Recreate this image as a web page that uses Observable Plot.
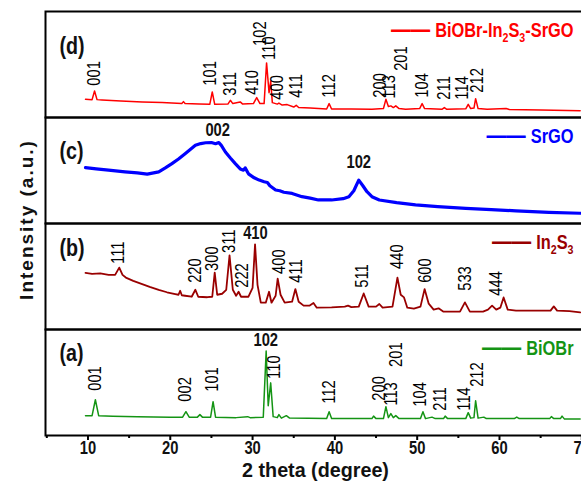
<!DOCTYPE html>
<html><head><meta charset="utf-8">
<script src="https://cdn.jsdelivr.net/npm/d3@7"></script>
<script src="https://cdn.jsdelivr.net/npm/@observablehq/plot@0.6"></script>
<style>
html,body{margin:0;padding:0;background:#fff;overflow:hidden;}
#chart svg{display:block;}
</style></head><body><div id="chart"></div>
<script>
// ---- data: [2theta, intensity (a.u., per-panel)] ----
const bioBr = [[9.7,20],[10.5,20],[10.9,36],[11.3,20],[13,19.5],[16,19],[20,18.5],[21.5,18.5],[21.9,24],[22.3,18.5],[23.3,18.5],[23.6,21],[23.9,18.5],[24.9,18.5],[25.2,34],[25.5,18.5],[28,18],[29.4,19],[29.7,18],[31.3,18.5],[31.65,85],[31.9,30],[32.2,53],[32.5,19],[33.0,18],[33.2,21],[33.5,17.5],[34.1,20],[34.5,17.5],[39.0,17],[39.3,24],[39.6,17],[41,17],[44.5,17],[44.7,19.5],[45,17],[45.9,17],[46.2,29],[46.5,18],[46.8,22],[47.1,18],[47.4,20],[47.8,17],[50.4,17],[50.7,24],[51.0,17],[51.8,18.5],[52.2,17],[53.2,17],[53.4,19.5],[53.7,17],[55.9,17],[56.2,23],[56.5,17.5],[56.9,18],[57.1,35],[57.4,17.5],[58.1,18.5],[58.4,17],[61.8,17],[62.1,18.5],[62.4,17],[66.1,17],[66.3,19],[66.6,17],[67.4,17],[67.6,19.5],[67.9,16.5],[69.8,16.5]];
const in2s3 = [[9.7,57],[10.5,56],[11.5,56.5],[12.5,55],[13.3,55],[13.8,62.3],[14.2,55],[14.6,52.3],[15.5,49],[16.5,46],[17.5,43],[18.6,40],[19.6,37.5],[20.6,35.7],[21.0,35],[21.2,39],[21.4,34.5],[21.8,34],[22.6,33],[23.05,40],[23.4,33],[24.5,32.5],[25.1,33],[25.4,57.3],[25.7,35],[26.3,36],[26.8,40],[27.2,74.7],[27.6,40],[28.0,34],[28.3,38],[28.6,33],[29.5,33],[30.0,42],[30.3,85.7],[30.6,45],[31.0,27],[31.6,27],[32.0,38],[32.3,27],[32.8,34],[33.05,51.3],[33.4,35],[33.9,27],[34.8,28],[35.2,40.7],[35.6,28],[36.2,24],[36.9,24],[37.4,26.7],[37.8,22],[39.6,22.3],[41.2,23],[41.6,24],[42.0,22.5],[42.9,23],[43.5,36.3],[44.1,23],[45.0,23],[45.4,25.7],[45.8,22],[47.0,23],[47.6,52.3],[48.0,35],[48.4,32.3],[48.8,22],[49.6,21],[50.4,23],[50.9,40.7],[51.4,26],[52.0,20],[52.6,21.3],[53.2,18],[55.2,18],[55.8,27.3],[56.4,18],[58.0,18],[58.6,20],[59.1,24],[59.6,20],[60.1,22],[60.5,32.3],[61.0,20],[62.0,19],[64.0,19],[66.2,19],[66.6,23.3],[67.0,19],[68.5,18.5],[69.8,17.3]];
const srGO = [[9.7,56.3],[11.0,55],[12.5,53.7],[14.5,52],[16.0,51],[17.2,49.7],[18.6,52],[19.4,56],[20.2,60.3],[21.0,65],[21.8,70.3],[22.5,75],[23.05,78.7],[23.7,80.5],[24.3,81.3],[25.0,81.5],[25.5,80.3],[25.9,81.5],[26.2,78.7],[26.7,72],[27.3,66],[27.9,60.3],[28.5,55],[28.9,53.7],[29.1,56],[29.5,50],[30.2,46],[30.8,43.7],[31.4,42],[31.8,41.3],[32.1,38],[32.8,33.7],[33.3,33],[33.8,31.5],[34.8,30.3],[36.0,27],[37.0,25.5],[38.0,23.7],[39.6,23.7],[41.0,25],[41.7,27],[42.3,33],[42.9,43.7],[43.4,38],[43.9,32],[44.5,27],[45.4,23.7],[47.5,21],[49.8,18.7],[52.5,17],[55.9,15.3],[59.0,14],[62.0,12.7],[66.0,11.3],[69.8,10.3]];
const composite = [[9.7,18.3],[10.5,18],[10.8,26.7],[11.1,18],[11.7,17.7],[14.0,16.7],[16.6,15.7],[19.0,15],[21.4,14],[21.6,16],[21.8,14],[23.5,13.7],[24.8,13.3],[25.1,25.7],[25.4,13.3],[27.0,13.5],[27.3,17.3],[27.6,14],[28.5,15.7],[28.8,13.5],[30.1,14],[30.5,20],[30.9,14],[31.4,14],[31.7,55],[32.0,25],[32.2,36.7],[32.4,15],[33.0,13.5],[33.2,14.5],[33.6,12.5],[34.2,13],[35.0,10.5],[35.3,12.3],[35.6,10],[37.0,9.5],[38.0,9],[39.0,8.5],[39.3,14],[39.6,8.5],[42.0,8.5],[44.5,8.3],[45.9,9],[46.2,18.3],[46.5,11],[46.8,11.7],[47.1,10],[47.4,11.7],[47.8,9],[48.6,8.3],[50.3,9],[50.6,14],[50.9,9],[53.0,8.3],[53.3,10],[53.6,8.3],[55.9,8.7],[56.2,13.3],[56.5,9],[56.9,9.5],[57.1,19],[57.4,9],[58.5,8.3],[60.8,9],[61.2,8],[65,7.5],[69.8,6.7]];

// ---- peak labels: [hkl, 2theta, label anchor intensity] ----
const labelsA = [["001",10.9,45],["002",21.85,34],["101",25.1,44],["110",32.6,57],["112",39.3,32],["200",45.35,35],["113",46.9,30],["201",47.5,69],["104",50.4,29],["211",52.85,25],["114",55.7,25],["212",57.3,49]];
const labelsAFlat = [["102",31.6,96]];
const labelsB = [["111",13.64,66],["220",23.05,47],["300",25.15,59],["311",27.2,77],["222",28.7,42],["400",33.2,56],["411",35.3,47],["511",43.3,42],["440",47.6,61],["600",50.95,47],["533",55.8,39],["444",59.55,34]];
const labelsBFlat = [["410",30.35,97]];
const labelsCFlat = [["002",25.76,94],["102",42.9,62]];
const labelsD = [["001",10.77,32],["101",24.9,32],["311",27.3,22],["410",29.9,23],["102",30.95,72],["110",31.97,58],["400",32.97,18],["411",35.3,20],["112",39.35,20],["200",45.55,20],["113",46.55,19],["201",48.0,47],["104",50.6,20],["211",53.25,18],["114",55.5,18],["212",57.3,25]];

const panels = ["d","c","b","a"];
const panelLetters = ["(d)","(c)","(b)","(a)"];
const seriesNames = ["BiOBr-In2S3-SrGO","SrGO","In2S3","BiOBr"];
const xTicks = [10,20,30,40,50,60,70];
const xMinorTicks = [5,15,25,35,45,55,65];
const xTitle = "2 theta (degree)";
const yTitle = "Intensity (a.u.)";

// ---- styles ----
const colors = {d:"#ff0000", c:"#0000ff", b:"#990000", a:"#149414"};
const widths = {d:1.5, c:3.2, b:1.8, a:1.5};
const letterDy = {d:35, c:34, b:25, a:24};
const font = "'Liberation Sans', Arial, Helvetica, sans-serif";
const condense = 0.82;   // horizontal squeeze to mimic a narrow face

const toRows = (panel, arr) => arr.map(([x, y]) => ({panel, x, y}));
const toLabels = (panel, arr) => arr.map(([t, x, y]) => ({panel, t, x, y}));
const series = {d: composite, c: srGO, b: in2s3, a: bioBr};
const rotLabels = [...toLabels("d", labelsD), ...toLabels("b", labelsB), ...toLabels("a", labelsA)];
const flatLabels = [...toLabels("c", labelsCFlat), ...toLabels("b", labelsBFlat), ...toLabels("a", labelsAFlat)];

const marks = [];
for (const p of panels) {
  marks.push(Plot.line(toRows(p, series[p]), {x:"x", y:"y", fy:"panel", stroke: colors[p], strokeWidth: widths[p], strokeLinejoin:"round"}));
}
marks.push(Plot.text(rotLabels, {x:"x", y:"y", fy:"panel", text:"t", rotate:-90, textAnchor:"start", fontSize:18, fill:"#000"}));
marks.push(Plot.text(flatLabels, {x:"x", y:"y", fy:"panel", text:"t", textAnchor:"middle", fontSize:18, fontWeight:"bold", fill:"#111"}));
panels.forEach((p, i) => {
  marks.push(Plot.text([panelLetters[i]], {fy:[p], text:d=>d, frameAnchor:"top-left", textAnchor:"start", lineAnchor:"middle", dx:14, dy:letterDy[p], fontSize:24, fontWeight:"bold", fill:"#111"}));
  marks.push(Plot.text([seriesNames[i]], {fy:[p], text:d=>d, frameAnchor:"top-right", textAnchor:"end", lineAnchor:"middle", dx:-12, dy:19, fontSize:20, fontWeight:"bold", fill:colors[p]}));
});
marks.push(Plot.frame({stroke:"#000", strokeWidth:2}));
marks.push(Plot.axisX({ticks:xTicks, tickSize:5, tickPadding:1, fontSize:18, fontWeight:"bold", label:null, strokeWidth:2, fill:"#111"}));
marks.push(Plot.axisX({ticks:xMinorTicks, tickSize:3, tickFormat:()=>"", label:null, strokeWidth:2}));
marks.push(Plot.text([xTitle], {fy:["a"], text:d=>d, frameAnchor:"bottom", textAnchor:"middle", lineAnchor:"middle", dy:35, fontSize:21, fontWeight:"bold", fill:"#111"}));
marks.push(Plot.text([yTitle], {fy:["c"], text:d=>d, frameAnchor:"bottom-left", textAnchor:"middle", lineAnchor:"middle", rotate:-90, dx:-19, dy:-4, fontSize:19, fontWeight:"bold", fill:"#111"}));

const chart = Plot.plot({
  width: 581, height: 483,
  marginTop: 9, marginBottom: 47, marginLeft: 45, marginRight: -4,
  style: {fontFamily: font, background: "#fff"},
  x: {domain: [4.84, 70.45], label: null},
  y: {domain: [0, 106.75], axis: null},
  fy: {domain: panels, axis: null, padding: 0},
  marks
});

// post-process: narrow lettering, legend swatch + subscripts, y-title tracking
const ns = "http://www.w3.org/2000/svg";
chart.querySelectorAll("text").forEach(t => {
  const label = t.textContent;
  if (label === yTitle) { t.setAttribute("letter-spacing", "2"); return; }
  const s = label === xTitle ? 0.94 : condense;
  const tr = t.getAttribute("transform");
  if (tr) t.setAttribute("transform", `${tr} scale(${s},1)`);
  if (!seriesNames.includes(label)) return;
  while (t.firstChild) t.removeChild(t.firstChild);
  const dash = document.createElementNS(ns, "tspan");
  dash.setAttribute("font-size", "24");
  dash.textContent = "\u2014\u2014";
  t.appendChild(dash);
  let first = true, wasSub = false;
  label.split(/(\d)/).forEach(part => {
    if (!part) return;
    const sp = document.createElementNS(ns, "tspan");
    const isSub = /^\d$/.test(part);
    if (first) sp.setAttribute("dx", "6");
    if (isSub) { sp.setAttribute("font-size", "13"); sp.setAttribute("dy", "5"); }
    else if (wasSub) sp.setAttribute("dy", "-5");
    sp.textContent = part;
    t.appendChild(sp);
    first = false; wasSub = isSub;
  });
});
document.getElementById("chart").appendChild(chart);
</script></body></html>
